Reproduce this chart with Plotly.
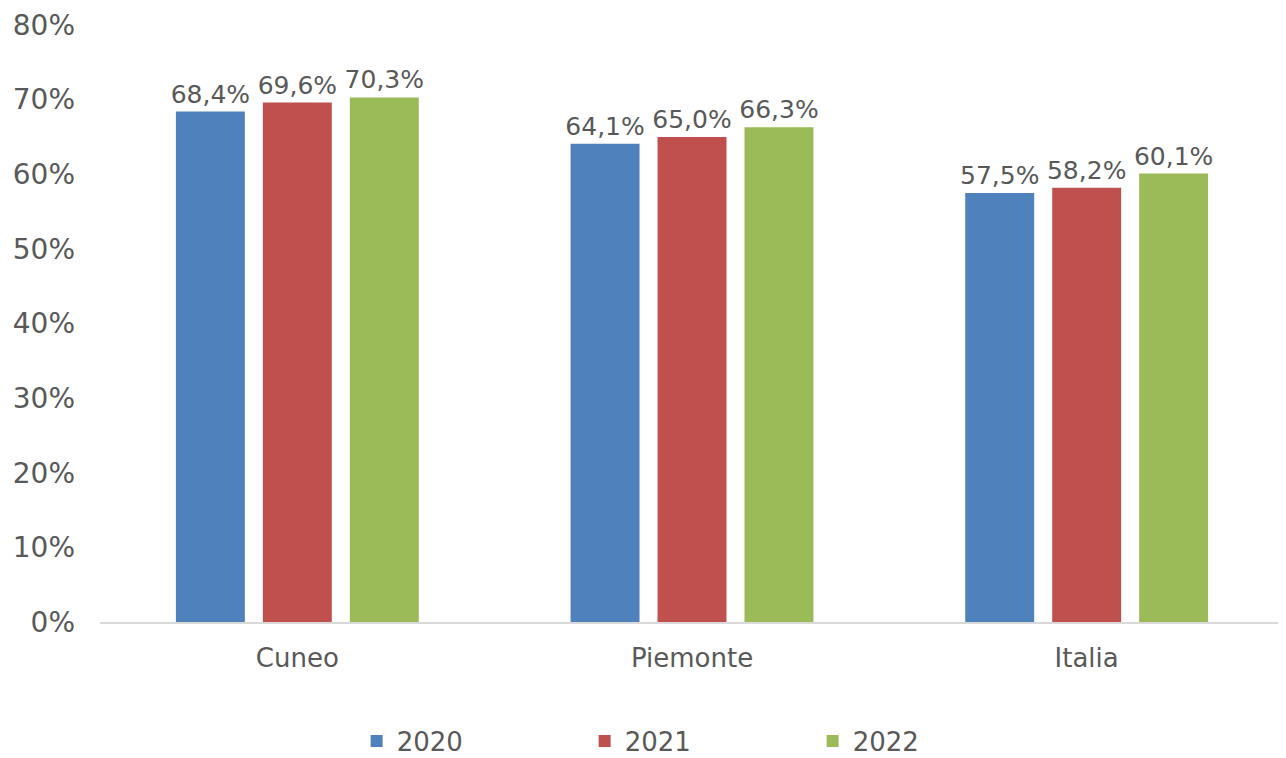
import plotly.graph_objects as go

categories = ['Cuneo', 'Piemonte', 'Italia']
years = ['2020', '2021', '2022']
values = {
    '2020': [68.4, 64.1, 57.5],
    '2021': [69.6, 65.0, 58.2],
    '2022': [70.3, 66.3, 60.1],
}
colors = {'2020': '#4F81BD', '2021': '#C0504D', '2022': '#9BBB59'}
y_ticks = [0, 10, 20, 30, 40, 50, 60, 70, 80]

font_family = 'DejaVu Sans'
grey = '#595959'

fig = go.Figure()
for y in years:
    fig.add_trace(go.Bar(
        x=categories,
        y=values[y],
        name=y,
        marker=dict(color=colors[y], line=dict(width=0)),
        text=[f'{v:.1f}%'.replace('.', ',') for v in values[y]],
        textposition='outside',
        constraintext='none',
        textfont=dict(family=font_family, size=25, color=grey),
        cliponaxis=False,
    ))

# the page body adds an 8px offset, margins are set with that in mind
fig.update_layout(
    width=1286,
    height=758,
    barmode='group',
    bargap=0.339,
    bargroupgap=0.207,
    plot_bgcolor='white',
    paper_bgcolor='white',
    font=dict(family=font_family, size=26, color=grey),
    margin=dict(t=17, b=144, l=92, r=10, pad=0),
    xaxis=dict(
        showline=True, linecolor='#D9D9D9', linewidth=2,
        ticks='', showgrid=False, automargin=False,
        ticklabelstandoff=12,
        tickfont=dict(size=26, color=grey),
    ),
    yaxis=dict(
        range=[0, 80],
        tickvals=y_ticks,
        ticktext=[f'{t}%' for t in y_ticks],
        showgrid=False, zeroline=False, showline=False,
        ticks='', ticklen=0, automargin=False,
        ticklabelstandoff=24,
        tickfont=dict(size=28, color=grey),
    ),
    legend=dict(
        orientation='h',
        x=0.5056, xanchor='center',
        yref='container', y=0.033, yanchor='middle',
        font=dict(size=26, color=grey),
        entrywidth=183,
        itemwidth=30,
    ),
    showlegend=True,
)

fig.write_html('out.html')
